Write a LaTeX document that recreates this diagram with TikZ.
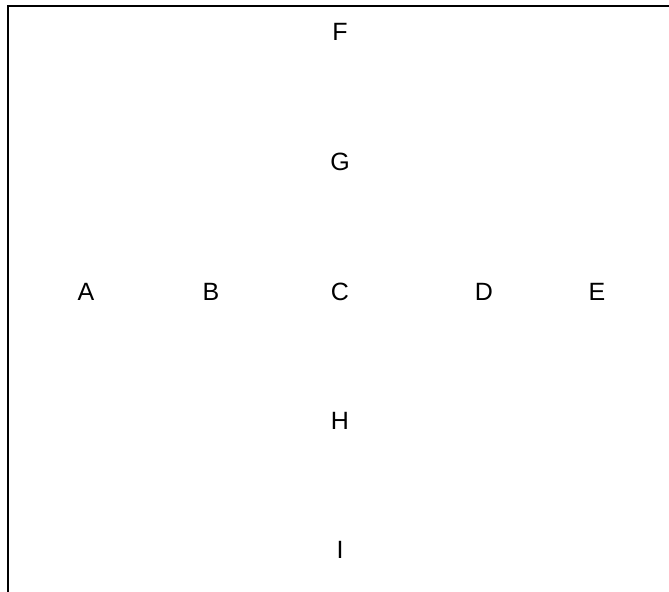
\documentclass[tikz,border=0pt]{standalone}
\usepackage{fontspec}
\setmainfont{Liberation Sans}
\usetikzlibrary{positioning}

\begin{document}
\begin{tikzpicture}[
  x=.5pt,y=-.5pt,
  lab/.style={inner sep=0pt,font=\fontsize{12.5}{15}\selectfont},
  frame/.style={line width=1pt,draw=black}
]
\useasboundingbox (0,0) rectangle (669,592);
% Open frame: only the top and left edges are shown.
\coordinate (frame-top) at (669,6);
\coordinate (frame-corner) at (7.5,6);
\coordinate (frame-bottom) at (7.5,592);
\draw[frame] (frame-top) -- (frame-corner) -- (frame-bottom);

% Middle row, left to right.
\foreach \x/\name in {86/A,211/B,340/C,484/D,597/E} {
  \node[lab] (\name) at (\x,292) {\name};
}
% Middle column, above and below C.
\foreach \y/\name in {32/F,162/G,421/H,550/I} {
  \node[lab] (\name) at (340,\y) {\name};
}
\end{tikzpicture}
\end{document}
